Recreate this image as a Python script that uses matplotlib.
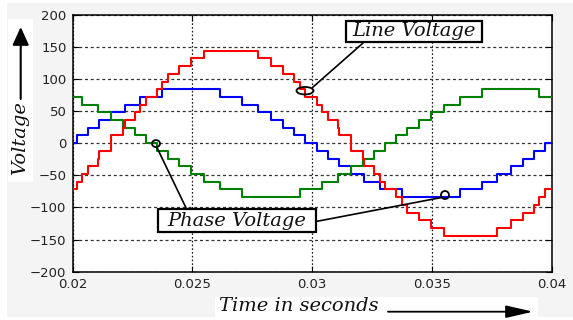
import matplotlib
matplotlib.use("Agg")
import matplotlib.pyplot as plt
from matplotlib.patches import Ellipse, Rectangle
from matplotlib.lines import Line2D

# ---------------- data ----------------
# Phase voltage 1 (blue): step times [s] and level after each step [V]
blue_t = [0.02000, 0.02018, 0.02064, 0.02111, 0.02162, 0.02217, 0.02283, 0.02374,
          0.02616, 0.02707, 0.02773, 0.02828, 0.02879, 0.02926, 0.02972,
          0.03018, 0.03064, 0.03111, 0.03162, 0.03217, 0.03283, 0.03374,
          0.03616, 0.03707, 0.03773, 0.03828, 0.03879, 0.03926, 0.03972]
blue_v = [0, 12, 24, 36, 48, 60, 72, 84,
          72, 60, 48, 36, 24, 12, 0,
          -12, -24, -36, -48, -60, -72, -84,
          -72, -60, -48, -36, -24, -12, 0]

# Phase voltage 2 (green)
green_t = [0.02000, 0.02040, 0.02106, 0.02161, 0.02212, 0.02259, 0.02305,
           0.02351, 0.02397, 0.02444, 0.02495, 0.02550, 0.02616, 0.02707,
           0.02949, 0.03040, 0.03106, 0.03161, 0.03212, 0.03259, 0.03305,
           0.03351, 0.03397, 0.03444, 0.03495, 0.03550, 0.03616, 0.03707,
           0.03949]
green_v = [72, 60, 48, 36, 24, 12, 0,
           -12, -24, -36, -48, -60, -72, -84,
           -72, -60, -48, -36, -24, -12, 0,
           12, 24, 36, 48, 60, 72, 84,
           72]

# Line voltage (red)
red_t = [0.02000, 0.02018, 0.02040, 0.02064, 0.02106, 0.02111, 0.02162, 0.02212,
         0.02217, 0.02259, 0.02283, 0.02305, 0.02351, 0.02374, 0.02397, 0.02444,
         0.02495, 0.02550, 0.02773, 0.02828, 0.02879, 0.02926, 0.02949, 0.02972,
         0.03018, 0.03040, 0.03064, 0.03106, 0.03111, 0.03162, 0.03212, 0.03217,
         0.03259, 0.03283, 0.03305, 0.03351, 0.03374, 0.03397, 0.03444, 0.03495,
         0.03550, 0.03773, 0.03828, 0.03879, 0.03926, 0.03949, 0.03972]
red_v = [-72, -60, -48, -36, -24, -12, 12, 24,
         36, 48, 60, 72, 84, 96, 108, 120,
         132, 144, 132, 120, 108, 96, 84, 72,
         60, 48, 36, 24, 12, -12, -24, -36,
         -48, -60, -72, -84, -96, -108, -120, -132,
         -144, -132, -120, -108, -96, -84, -72]

t_end = 0.04
x_ticks = [0.02, 0.025, 0.03, 0.035, 0.04]
x_tick_labels = ["0.02", "0.025", "0.03", "0.035", "0.04"]
y_ticks = [-200, -150, -100, -50, 0, 50, 100, 150, 200]

# ---------------- figure ----------------
W, H = 573, 320
fig = plt.figure(figsize=(W / 100, H / 100), dpi=100, facecolor="white")


def fx(x):
    return x / W


def fy(y):
    return 1 - y / H


def frect(x0, y0, x1, y1, **kw):
    r = Rectangle((fx(x0), fy(y1)), fx(x1) - fx(x0), fy(y0) - fy(y1),
                  transform=fig.transFigure, **kw)
    fig.add_artist(r)
    return r


# background panels
frect(7, 3, 573, 317, facecolor="#f4f4f4", edgecolor="none", zorder=-10)
frect(8, 19, 33, 182, facecolor="white", edgecolor="none", zorder=-9)
frect(215, 297, 538, 320, facecolor="white", edgecolor="none", zorder=-9)

ax = fig.add_axes([fx(72.7), fy(271.7), (551.7 - 72.7) / W, (271.7 - 14.7) / H])
ax.set_facecolor("white")


def stairs(t, v):
    return list(t) + [t_end], list(v) + [v[-1]]


bt, bv = stairs(blue_t, blue_v)
gt, gv = stairs(green_t, green_v)
rt, rv = stairs(red_t, red_v)
ax.step(bt, bv, where="post", color="#0000ff", lw=1.5, zorder=3)
ax.step(gt, gv, where="post", color="#008000", lw=1.5, zorder=3)
ax.step(rt, rv, where="post", color="#ff0000", lw=1.5, zorder=4)

ax.set_xlim(0.02, 0.04)
ax.set_ylim(-200, 200)
ax.set_xticks(x_ticks)
ax.set_xticklabels(x_tick_labels)
ax.set_yticks(y_ticks)

ax.xaxis.grid(True, color="#222222", lw=0.9, linestyle=(0, (1.4, 1.6)))
ax.yaxis.grid(True, color="#333333", lw=0.9, linestyle=(0, (2.4, 2.2)))
ax.set_axisbelow(True)

ax.tick_params(direction="in", length=4, width=0.8, top=True, right=True,
               labelsize=9.5, labelcolor="#222222", pad=4.5)
for s in ax.spines.values():
    s.set_linewidth(1.1)
    s.set_color("black")

serif = dict(family="DejaVu Serif", style="italic", size=14, color="#111111")

# axis labels with arrows
fig.text(fx(20), fy(138), "Voltage", rotation=90, ha="center", va="center", **serif)
fig.text(fx(299), fy(306), "Time in seconds", ha="center", va="center", **serif)
fig.add_artist(matplotlib.text.Annotation(
    "", xy=(20.7, H - 27), xytext=(20.7, H - 99),
    xycoords="figure pixels", textcoords="figure pixels",
    arrowprops=dict(arrowstyle="-|>,head_length=1.1,head_width=0.5",
                    lw=1.5, color="black", mutation_scale=10,
                    shrinkA=0, shrinkB=0)))
fig.add_artist(matplotlib.text.Annotation(
    "", xy=(533, H - 311.7), xytext=(388, H - 311.7),
    xycoords="figure pixels", textcoords="figure pixels",
    arrowprops=dict(arrowstyle="-|>,head_length=1.65,head_width=0.38",
                    lw=1.3, color="black", mutation_scale=10,
                    shrinkA=0, shrinkB=0)))


def fline(x0, y0, x1, y1):
    fig.add_artist(Line2D([fx(x0), fx(x1)], [fy(y0), fy(y1)],
                          transform=fig.transFigure, color="black", lw=1.2, zorder=6))


def fellipse(cx, cy, w, h):
    fig.add_artist(Ellipse((fx(cx), fy(cy)), w / W, h / H, transform=fig.transFigure,
                           fill=False, edgecolor="black", lw=1.3, zorder=6))


# Line Voltage callout
fellipse(305, 90.7, 17, 7.5)
fline(312.7, 87.3, 362.7, 43.3)
frect(345.7, 20.7, 481.7, 42.3, facecolor="white", edgecolor="black", lw=1.6, zorder=7)
fig.text(fx(413.7), fy(31.5), "Line Voltage", ha="center", va="center", zorder=8, **serif)

# Phase Voltage callout
fellipse(156, 143.6, 8, 7)
fellipse(445, 195, 8, 8)
fline(156.7, 147, 186.7, 209.3)
fline(316, 221.5, 441.5, 197.5)
frect(158.3, 209.3, 316, 231.7, facecolor="white", edgecolor="black", lw=1.6, zorder=7)
fig.text(fx(237), fy(220.5), "Phase Voltage", ha="center", va="center", zorder=8, **serif)

fig.savefig("out.png", dpi=100, facecolor=fig.get_facecolor())
